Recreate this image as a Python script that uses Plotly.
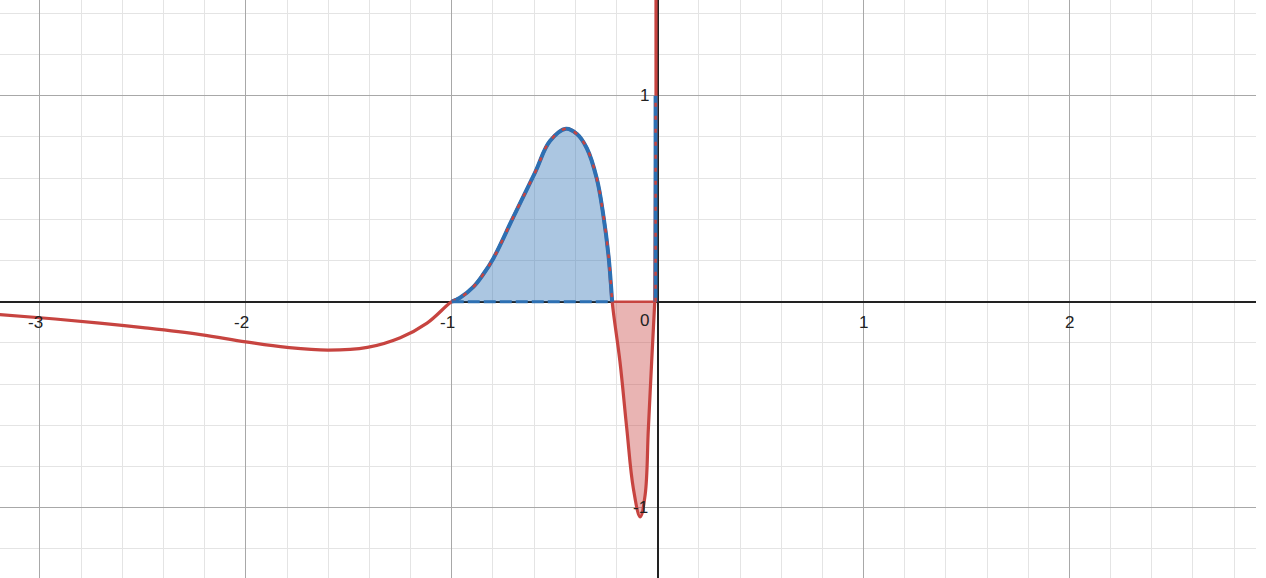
import plotly.graph_objects as go

# Red function curve
curve_x = [-3.20, -3.00, -2.71, -2.50, -2.22, -2.00, -1.80, -1.60, -1.41, -1.25, -1.12, -1.00,
           -0.960, -0.895, -0.847, -0.798, -0.701, -0.595, -0.523, -0.445, -0.393,
           -0.344, -0.296, -0.264, -0.239, -0.221,
           -0.183, -0.150, -0.118, -0.085, -0.061, -0.045, -0.029, -0.014]
curve_y = [-0.062, -0.078, -0.104, -0.126, -0.160, -0.195, -0.222, -0.235, -0.222, -0.175, -0.104, 0.0,
           0.019, 0.072, 0.133, 0.210, 0.411, 0.628, 0.780, 0.840, 0.815,
           0.745, 0.599, 0.421, 0.226, 0.0,
           -0.292, -0.615, -0.907, -1.045, -0.940, -0.615, -0.290, 0.0]
# near-vertical branch at x≈0
vert_x = [-0.014, -0.010, -0.008, -0.008]
vert_y = [0.0, 0.5, 1.0, 1.6]

HUMP_START, HUMP_END = 11, 25
hump_x = curve_x[HUMP_START:HUMP_END + 1]
hump_y = curve_y[HUMP_START:HUMP_END + 1]
dip_x = curve_x[HUMP_END:]
dip_y = curve_y[HUMP_END:]
blue_vert_x = [-0.010, -0.010]
blue_vert_y = [0.0, 1.0]

x_ticks = [-3, -2, -1, 1, 2]
y_ticks = [1, 0, -1]

RED = "#c74440"
BLUE = "#2d70b3"
SM = 1.1

fig = go.Figure()

# fills
fig.add_trace(go.Scatter(x=hump_x, y=hump_y, mode="lines",
                         line=dict(width=0, shape="spline", smoothing=SM), fill="tozeroy",
                         fillcolor="rgba(45,112,179,0.4)", hoverinfo="skip"))
fig.add_trace(go.Scatter(x=dip_x, y=dip_y, mode="lines",
                         line=dict(width=0, shape="spline", smoothing=SM), fill="tozeroy",
                         fillcolor="rgba(199,68,64,0.4)", hoverinfo="skip"))

# red function curve
fig.add_trace(go.Scatter(x=curve_x, y=curve_y, mode="lines",
                         line=dict(color=RED, width=3.2, shape="spline", smoothing=SM)))
fig.add_trace(go.Scatter(x=vert_x, y=vert_y, mode="lines",
                         line=dict(color=RED, width=3.2)))

# red dip baseline
fig.add_trace(go.Scatter(x=[dip_x[0], dip_x[-1]], y=[0, 0], mode="lines",
                         line=dict(color=RED, width=2.5)))

# blue boundary (hump + vertical) with red dashes on top
fig.add_trace(go.Scatter(x=hump_x, y=hump_y, mode="lines",
                         line=dict(color=BLUE, width=4, shape="spline", smoothing=SM)))
fig.add_trace(go.Scatter(x=blue_vert_x, y=blue_vert_y, mode="lines",
                         line=dict(color=BLUE, width=4)))
fig.add_trace(go.Scatter(x=hump_x, y=hump_y, mode="lines",
                         line=dict(color=RED, width=2.5, shape="spline", smoothing=SM, dash="4px,9px")))
fig.add_trace(go.Scatter(x=blue_vert_x, y=blue_vert_y, mode="lines",
                         line=dict(color=RED, width=2.5, dash="4px,9px")))

# blue dashed baseline
fig.add_trace(go.Scatter(x=[hump_x[0], hump_x[-1]], y=[0, 0], mode="lines",
                         line=dict(color=BLUE, width=3, dash="12px,4px")))

FONT = dict(family="Arial, Liberation Sans", size=17, color="#222")
ann = []
for t in x_ticks:
    ann.append(dict(x=t, y=0, xref="x", yref="y", text=str(t), showarrow=False,
                    yshift=-21, xshift=-4 if t < 0 else 0, font=FONT))
for t in y_ticks:
    ann.append(dict(x=0, y=t, xref="x", yref="y", text=str(t), showarrow=False,
                    xanchor="right", xshift=-8 if t < 0 else -7, yshift=-19 if t == 0 else 0, font=FONT))

fig.update_layout(
    width=1266, height=578,
    margin=dict(l=0, r=10, t=0, b=0),
    paper_bgcolor="white", plot_bgcolor="white",
    showlegend=False,
    annotations=ann,
    xaxis=dict(range=[-3.194, 2.906], dtick=1, tick0=0, showgrid=True,
               gridcolor="#a8a8a8", gridwidth=1,
               minor=dict(dtick=0.2, tick0=0, showgrid=True, gridcolor="#e4e4e4", gridwidth=1),
               zeroline=True, zerolinecolor="#222", zerolinewidth=2,
               showticklabels=False, ticks="", fixedrange=True),
    yaxis=dict(range=[-1.342, 1.465], dtick=1, tick0=0, showgrid=True,
               gridcolor="#a8a8a8", gridwidth=1,
               minor=dict(dtick=0.2, tick0=0, showgrid=True, gridcolor="#e4e4e4", gridwidth=1),
               zeroline=True, zerolinecolor="#222", zerolinewidth=2,
               showticklabels=False, ticks="", fixedrange=True),
)

fig.write_html("out.html", config={"displayModeBar": False},
               post_script="document.body.style.margin='0';")
